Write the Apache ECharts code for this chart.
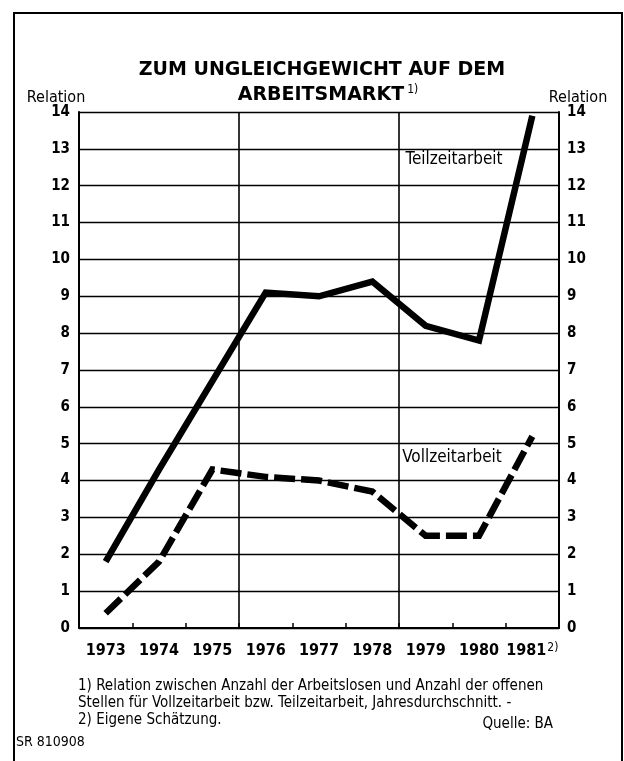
<!DOCTYPE html>
<html><head><meta charset="utf-8">
<script src="https://cdn.jsdelivr.net/npm/echarts@6/dist/echarts.min.js"></script>
<style>html,body{margin:0;padding:0;background:#fff}#c{width:624px;height:761px}</style>
</head><body><div id="c"></div>
<script>
// ---- data ----
const years = ['1973', '1974', '1975', '1976', '1977', '1978', '1979', '1980', '1981'];
const teilzeit = [1.8, 4.3, 6.7, 9.1, 9.0, 9.4, 8.2, 7.8, 13.9];
const vollzeit = [0.4, 1.8, 4.3, 4.1, 4.0, 3.7, 2.5, 2.5, 5.2];
const yMin = 0, yMax = 14, yStep = 1;
const seriesNames = ['Teilzeitarbeit', 'Vollzeitarbeit'];
const titleLine1 = 'ZUM UNGLEICHGEWICHT AUF DEM';
const titleLine2 = 'ARBEITSMARKT';
const footnotes = [
  '1) Relation zwischen Anzahl der Arbeitslosen und Anzahl der offenen',
  'Stellen für Vollzeitarbeit bzw. Teilzeitarbeit, Jahresdurchschnitt. -',
  '2) Eigene Schätzung.'
];
const source = 'Quelle: BA';
const code = 'SR 810908';

const FN = '"DejaVu Sans Condensed", "Liberation Sans Narrow", "Roboto", sans-serif';
const FT = '"DejaVu Sans", "Noto Sans", sans-serif';

const chart = echarts.init(document.getElementById('c'), null, {renderer: 'canvas'});

const yAxisCommon = {
  type: 'value', min: yMin, max: yMax, interval: yStep,
  axisLine: {show: true, lineStyle: {color: '#000', width: 2}},
  axisTick: {show: false},
  axisLabel: {color: '#000', fontFamily: FN, fontWeight: 'bold', fontSize: 15}
};

const option = {
  backgroundColor: '#fff',
  animation: false,
  grid: {left: 79, right: 65, top: 112, bottom: 133, containLabel: false},
  xAxis: {
    type: 'category', data: years, boundaryGap: true,
    axisLine: {show: true, lineStyle: {color: '#000', width: 2}},
    axisTick: {show: true, inside: true, length: 5, interval: 0, lineStyle: {color: '#000', width: 1.5}},
    splitLine: {show: true, interval: function (i) { return i % 3 === 0; }, lineStyle: {color: '#000', width: 1.6}},
    axisLabel: {
      interval: 0, margin: 14, color: '#000',
      formatter: function (v, i) { return i === years.length - 1 ? '{y|' + v + '}{s|2)}' : '{y|' + v + '}'; },
      rich: {
        y: {fontFamily: FN, fontWeight: 'bold', fontSize: 16, color: '#000', lineHeight: 18},
        s: {fontFamily: FN, fontSize: 12, color: '#000', verticalAlign: 'top', lineHeight: 18, padding: [0, 0, 6, 1]}
      }
    }
  },
  yAxis: [
    Object.assign({}, yAxisCommon, {position: 'left',
      axisLabel: Object.assign({}, yAxisCommon.axisLabel, {margin: 9}),
      splitLine: {show: true, lineStyle: {color: '#000', width: 1.3}}}),
    Object.assign({}, yAxisCommon, {position: 'right',
      axisLabel: Object.assign({}, yAxisCommon.axisLabel, {margin: 8}),
      splitLine: {show: false}})
  ],
  series: [
    {name: seriesNames[0], type: 'line', data: teilzeit, symbol: 'none', smooth: false,
     lineStyle: {color: '#000', width: 6.5, cap: 'butt', join: 'miter'}, z: 5},
    {name: seriesNames[1], type: 'line', data: vollzeit, symbol: 'none', smooth: false,
     lineStyle: {color: '#000', width: 6.5, type: [21, 6], cap: 'butt', join: 'miter'}, z: 5}
  ],
  graphic: [
    {type: 'rect', shape: {x: 14, y: 13, width: 608, height: 800}, style: {fill: 'none', stroke: '#000', lineWidth: 2}, silent: true},
    {type: 'text', x: 322, y: 70, style: {text: titleLine1, font: 'bold 19px ' + FT, fill: '#000', textAlign: 'center', textVerticalAlign: 'middle'}},
    {type: 'text', x: 328, y: 95, style: {
      text: '{t|' + titleLine2 + '}{s|1)}', textAlign: 'center', textVerticalAlign: 'middle',
      rich: {t: {fontFamily: FT, fontWeight: 'bold', fontSize: 19, fill: '#000', lineHeight: 22},
             s: {fontFamily: FN, fontSize: 12, fill: '#000', verticalAlign: 'top', lineHeight: 22, padding: [0, 0, 0, 3]}}}},
    {type: 'text', x: 56, y: 98, style: {text: 'Relation', font: '16px ' + FN, fill: '#000', textAlign: 'center', textVerticalAlign: 'middle'}},
    {type: 'text', x: 578, y: 98, style: {text: 'Relation', font: '16px ' + FN, fill: '#000', textAlign: 'center', textVerticalAlign: 'middle'}},
    {type: 'text', x: 454, y: 160, style: {text: seriesNames[0], font: '17px ' + FN, fill: '#000', textAlign: 'center', textVerticalAlign: 'middle'}},
    {type: 'text', x: 452, y: 458, style: {text: seriesNames[1], font: '17px ' + FN, fill: '#000', textAlign: 'center', textVerticalAlign: 'middle'}},
    {type: 'text', x: 78, y: 686, style: {text: footnotes[0], font: '15px ' + FN, fill: '#000', textAlign: 'left', textVerticalAlign: 'middle'}},
    {type: 'text', x: 78, y: 703, style: {text: footnotes[1], font: '15px ' + FN, fill: '#000', textAlign: 'left', textVerticalAlign: 'middle'}},
    {type: 'text', x: 78, y: 720, style: {text: footnotes[2], font: '15px ' + FN, fill: '#000', textAlign: 'left', textVerticalAlign: 'middle'}},
    {type: 'text', x: 553, y: 724, style: {text: source, font: '15px ' + FN, fill: '#000', textAlign: 'right', textVerticalAlign: 'middle'}},
    {type: 'text', x: 16, y: 742, style: {text: code, font: '14px ' + FN, fill: '#000', textAlign: 'left', textVerticalAlign: 'middle'}}
  ]
};
chart.setOption(option);
</script>
</body></html>
